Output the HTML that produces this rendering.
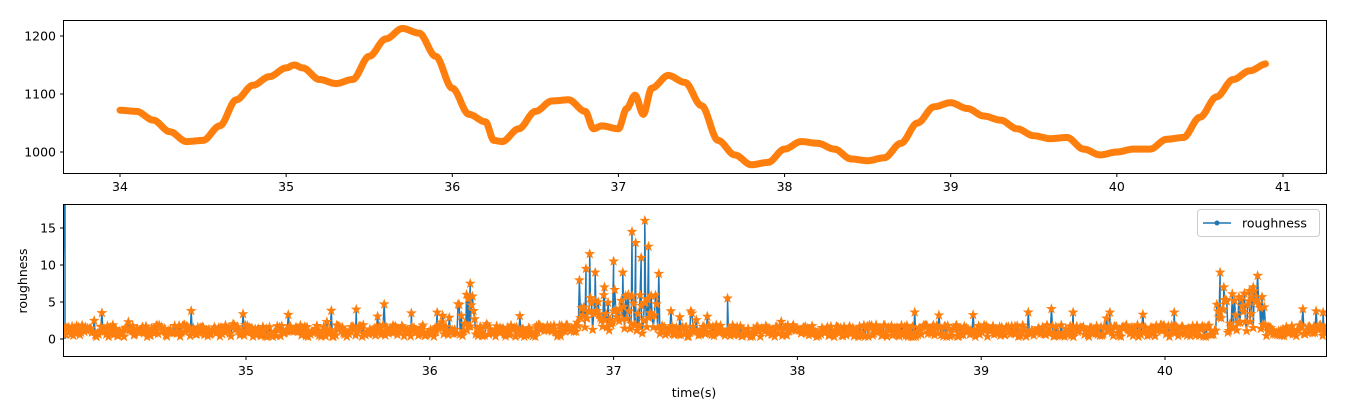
<!DOCTYPE html>
<html><head><meta charset="utf-8">
<style>
html,body{margin:0;padding:0;background:#fff;}
svg{display:block;font-family:"DejaVu Sans","Liberation Sans",sans-serif;}
</style></head>
<body>
<svg id="s" width="1353" height="404" viewBox="0 0 1353 404" xmlns="http://www.w3.org/2000/svg">
<rect width="1353" height="404" fill="#fff"/>
<defs>
<clipPath id="c1"><rect x="63" y="20" width="1263" height="153"/></clipPath>
<clipPath id="c2"><rect x="63" y="204" width="1263" height="152"/></clipPath>
</defs>
<g id="top" clip-path="url(#c1)"></g>
<g id="bot" clip-path="url(#c2)"></g>
<rect x="63.5" y="20.5" width="1263" height="153" fill="none" stroke="#000" stroke-width="1"/>
<rect x="63.5" y="204.5" width="1263" height="152" fill="none" stroke="#000" stroke-width="1"/>
<g id="ticks" font-size="12.5" fill="#000"></g>
<text x="694" y="397" font-size="12.5" text-anchor="middle">time(s)</text>
<text x="0" y="0" font-size="12.5" text-anchor="middle" transform="translate(27,281) rotate(-90)">roughness</text>
<g>
<rect x="1197.5" y="209.5" width="122" height="27" rx="3" fill="#fff" stroke="#ccc"/>
<line x1="1203" y1="223" x2="1231" y2="223" stroke="#1f77b4" stroke-width="1.5"/>
<circle cx="1217" cy="223" r="2.5" fill="#1f77b4"/>
<text x="1242" y="227.5" font-size="12.5">roughness</text>
</g>
</svg>
<script>
var NS="http://www.w3.org/2000/svg";
function el(p,t,a,txt){var e=document.createElementNS(NS,t);for(var k in a)e.setAttribute(k,a[k]);if(txt!==undefined)e.textContent=txt;p.appendChild(e);return e;}
var tk=document.getElementById('ticks');
// top axis
function tx1(t){return 120+(t-34)*166.14;}
function ty1(v){return 152-(v-1000)*0.58;}
for(var t=34;t<=41;t++){var x=tx1(t);el(tk,'line',{x1:x,y1:173.5,x2:x,y2:177,stroke:'#000'});el(tk,'text',{x:x,y:191,'text-anchor':'middle'},t);}
[1000,1100,1200].forEach(function(v){var y=ty1(v);el(tk,'line',{x1:63.5,y1:y,x2:60,y2:y,stroke:'#000'});el(tk,'text',{x:56,y:y+4.5,'text-anchor':'end'},v);});
// bottom axis
function tx2(t){return 246+(t-35)*183.8;}
function ty2(v){return 339-v*7.4;}
for(var t=35;t<=40;t++){var x=tx2(t);el(tk,'line',{x1:x,y1:356.5,x2:x,y2:360,stroke:'#000'});el(tk,'text',{x:x,y:375,'text-anchor':'middle'},t);}
[0,5,10,15].forEach(function(v){var y=ty2(v);el(tk,'line',{x1:63.5,y1:y,x2:60,y2:y,stroke:'#000'});el(tk,'text',{x:56,y:y+4.5,'text-anchor':'end'},v);});
// top data
var K=[[34.0,1072],[34.1,1070],[34.2,1055],[34.3,1035],[34.4,1018],[34.5,1020],[34.6,1045],[34.7,1090],[34.8,1115],[34.9,1130],[35.0,1145],[35.05,1150],[35.1,1145],[35.2,1125],[35.3,1118],[35.4,1125],[35.5,1165],[35.6,1195],[35.7,1213],[35.8,1205],[35.9,1165],[36.0,1110],[36.1,1065],[36.2,1052],[36.25,1020],[36.3,1018],[36.4,1040],[36.5,1070],[36.6,1088],[36.7,1090],[36.8,1070],[36.85,1040],[36.9,1045],[37.0,1040],[37.05,1075],[37.1,1098],[37.15,1065],[37.2,1110],[37.3,1132],[37.4,1120],[37.5,1080],[37.6,1020],[37.7,995],[37.8,978],[37.9,982],[38.0,1005],[38.1,1018],[38.2,1015],[38.3,1005],[38.4,988],[38.5,985],[38.6,990],[38.7,1015],[38.8,1050],[38.9,1078],[39.0,1085],[39.1,1075],[39.2,1062],[39.3,1055],[39.4,1040],[39.5,1028],[39.6,1023],[39.7,1025],[39.8,1005],[39.9,995],[40.0,1000],[40.1,1005],[40.2,1005],[40.3,1022],[40.4,1025],[40.5,1060],[40.6,1095],[40.7,1125],[40.8,1140],[40.9,1152]];
function interp(t){for(var i=0;i<K.length-1;i++){if(t<=K[i+1][0]){var a=K[i],b=K[i+1],u=(t-a[0])/(b[0]-a[0]);u=u*u*(3-2*u);return a[1]+(b[1]-a[1])*u;}}return K[K.length-1][1];}
var d='';for(var t=34.0;t<=40.9;t+=0.005){d+=(d?'L':'M')+tx1(t).toFixed(1)+','+ty1(interp(t)).toFixed(1);}
var gt=document.getElementById('top');
el(gt,'path',{d:d,fill:'none',stroke:'#ff7f0e','stroke-width':7,'stroke-linejoin':'round','stroke-linecap':'round'});
// bottom data
var seed=12345;function rnd(){seed=(seed*1103515245+12345)%2147483648;return seed/2147483648;}
var spikes=[[36.2,6],[36.22,7.5],[36.85,9.5],[36.87,11.5],[36.9,9],[37.0,10.5],[37.05,9],[37.1,14.5],[37.12,13],[37.15,11],[37.17,16],[37.19,12.5],[36.95,7],[37.08,6],[37.62,5.5],[40.3,9],[40.32,7],[40.48,7],[40.46,6.5],[35.6,4],[35.9,3.5],[36.04,3.6],[39.5,3.6],[39.7,3.6],[40.05,3.6],[40.86,3.6]];
var gb=document.getElementById('bot');
var pts=[];
for(var t=34.0;t<=40.9;t+=0.006){
 var base=0.3+rnd()*1.6;
 if(rnd()<0.04)base+=1+rnd()*2;
 // busy regions
 if((t>36.8&&t<37.25)||(t>40.28&&t<40.55)||(t>36.15&&t<36.25))base+=rnd()*5;
 pts.push([t,base]);
}
spikes.forEach(function(s){pts.push([s[0],s[1]]);});
pts.sort(function(a,b){return a[0]-b[0];});
var db='M65,339L65,150';
pts.forEach(function(p){db+='L'+tx2(p[0]).toFixed(1)+','+ty2(p[1]).toFixed(1);});
el(gb,'path',{d:db,fill:'none',stroke:'#1f77b4','stroke-width':1.5});
function star(cx,cy,r){var s='';for(var i=0;i<10;i++){var a=-Math.PI/2+i*Math.PI/5,rr=i%2?r*0.4:r;s+=(i?'L':'M')+(cx+rr*Math.cos(a)).toFixed(1)+','+(cy+rr*Math.sin(a)).toFixed(1);}return s+'Z';}
var ds='';pts.forEach(function(p){ds+=star(tx2(p[0]),ty2(p[1]),4.5);});
el(gb,'path',{d:ds,fill:'#ff7f0e',stroke:'#ff7f0e','stroke-width':0.8});
</script>
</body></html>
